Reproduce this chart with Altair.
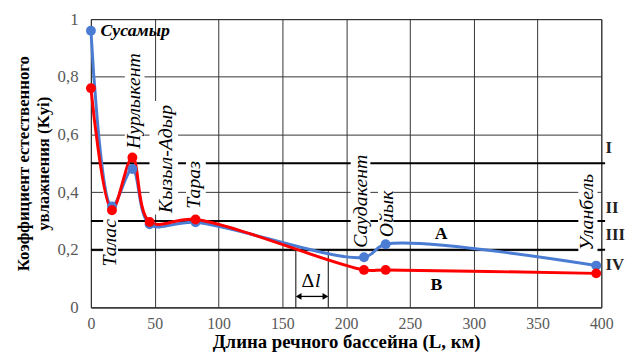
import altair as alt
import pandas as pd

# ---- data ----
stations = ["Сусамыр", "Талас", "Нурлыкент", "Кызыл-Адыр", "Тараз", "Саудакент", "Ойык", "Уланбель"]
km = [0, 16.5, 32.5, 46, 82, 214, 231, 396]
k_a = [0.96, 0.35, 0.48, 0.288, 0.295, 0.174, 0.219, 0.145]
k_b = [0.76, 0.337, 0.52, 0.296, 0.305, 0.13, 0.13, 0.118]

# station label anchors (rotated labels) in data units
label_names = ["Талас", "Нурлыкент", "Кызыл-Адыр", "Тараз", "Саудакент", "Ойык", "Уланбель"]
label_x = [15.3, 33.5, 59, 81.2, 211.4, 232.3, 389]
label_y = [0.224, 0.716, 0.515, 0.425, 0.368, 0.324, 0.33]

# white label boxes that hide grid lines behind the labels
box_x0 = [9.6, 26.6, 45.9, 74.5, 203.6, 225, 382]
box_x1 = [21.2, 42, 68.3, 90, 219, 237, 397]
box_y0 = [0.14, 0.545, 0.322, 0.325, 0.205, 0.236, 0.18]
box_y1 = [0.425, 0.894, 0.716, 0.545, 0.545, 0.44, 0.459]

zone_levels = [0.5, 0.3, 0.2]
zone_names = ["I", "II", "III", "IV"]
zone_y = [0.551, 0.346, 0.25, 0.147]

x_ticks = [0, 50, 100, 150, 200, 250, 300, 350, 400]
y_ticks = [0, 0.2, 0.4, 0.6, 0.8, 1]

dl_x = [160.6, 186]

SERIF = "Liberation Serif"
BLUE = "#4A7CD3"
RED = "#FF0000"

xs = alt.Scale(domain=[0, 400], nice=False)
ys = alt.Scale(domain=[0, 1], nice=False)
x_axis = alt.Axis(values=x_ticks, title="Длина речного бассейна (L, км)", grid=True,
                  gridColor="#333333", gridWidth=1, ticks=False, domainColor="#333333",
                  labelFont=SERIF, labelFontSize=16, labelColor="#595959", labelPadding=8,
                  titleFont=SERIF, titleFontSize=19, titleFontWeight="bold", titleColor="black",
                  titlePadding=2, labelFlush=False)
y_axis = alt.Axis(values=y_ticks, title=["Коэффициент естественного", "увлажнения (Kyi)"],
                  grid=True, gridColor="#333333", gridWidth=1, ticks=False, domainColor="#333333",
                  labelExpr="replace(format(datum.value, '.1~f'), '.', ',')",
                  labelFont=SERIF, labelFontSize=17, labelColor="#595959", labelPadding=13,
                  titleFont=SERIF, titleFontSize=17, titleFontWeight="bold", titleColor="black",
                  titleLineHeight=20, titlePadding=5, labelFlush=False)

series = pd.DataFrame({"km": km + km, "K": k_a + k_b,
                       "s": ["A"] * len(km) + ["B"] * len(km),
                       "o": list(range(len(km))) * 2})

rules = pd.DataFrame({"y": zone_levels, "x0": [0] * 3, "x1": [403] * 3})
boxes = pd.DataFrame({"x0": box_x0, "x1": box_x1, "y0": box_y0, "y1": box_y1})
labels = pd.DataFrame({"name": label_names, "x": label_x, "y": label_y})
zones = pd.DataFrame({"name": zone_names, "x": [403.3] * 4, "y": zone_y})

thick = alt.Chart(rules).mark_rule(color="black", strokeWidth=2).encode(
    x=alt.X("x0:Q", scale=xs, axis=x_axis), x2="x1:Q",
    y=alt.Y("y:Q", scale=ys, axis=y_axis))

box = alt.Chart(boxes).mark_rect(fill="white").encode(
    x=alt.X("x0:Q", scale=xs, axis=x_axis), x2="x1:Q",
    y=alt.Y("y0:Q", scale=ys, axis=y_axis), y2="y1:Q")

dl_df = pd.DataFrame({"x": dl_x, "y0": [0, 0], "y1": [0.2, 0.2]})
dl_lines = alt.Chart(dl_df).mark_rule(color="black", strokeWidth=1).encode(
    x=alt.X("x:Q", scale=xs, axis=x_axis), y=alt.Y("y0:Q", scale=ys, axis=y_axis), y2="y1:Q")
arrow_df = pd.DataFrame({"x0": [dl_x[0] + 1.5], "x1": [dl_x[1] - 1.5], "y": [0.038]})
arrow = alt.Chart(arrow_df).mark_rule(color="black", strokeWidth=1.3).encode(
    x=alt.X("x0:Q", scale=xs, axis=x_axis), x2="x1:Q", y=alt.Y("y:Q", scale=ys, axis=y_axis))
heads_df = pd.DataFrame({"x": [dl_x[0] + 2.2, dl_x[1] - 2.2], "y": [0.038, 0.038],
                         "shape": ["triangle-left", "triangle-right"]})
heads = alt.Chart(heads_df).mark_point(filled=True, color="black", size=45, opacity=1).encode(
    x=alt.X("x:Q", scale=xs, axis=x_axis), y=alt.Y("y:Q", scale=ys, axis=y_axis),
    shape=alt.Shape("shape:N", scale=None, legend=None))
dl_t1 = alt.Chart(pd.DataFrame({"t": ["Δ"], "x": [175], "y": [0.092]})).mark_text(
    font=SERIF, fontSize=20, color="black", align="right", baseline="middle").encode(
    x=alt.X("x:Q", scale=xs, axis=x_axis), y=alt.Y("y:Q", scale=ys, axis=y_axis), text="t:N")
dl_t2 = alt.Chart(pd.DataFrame({"t": ["l"], "x": [175.6], "y": [0.092]})).mark_text(
    font=SERIF, fontSize=20, color="black", fontStyle="italic",
    align="left", baseline="middle").encode(
    x=alt.X("x:Q", scale=xs, axis=x_axis), y=alt.Y("y:Q", scale=ys, axis=y_axis), text="t:N")

color_scale = alt.Scale(domain=["A", "B"], range=[BLUE, RED])
lines = alt.Chart(series).mark_line(interpolate="catmull-rom", strokeWidth=3).encode(
    x=alt.X("km:Q", scale=xs, axis=x_axis), y=alt.Y("K:Q", scale=ys, axis=y_axis),
    color=alt.Color("s:N", scale=color_scale, legend=None), order="o:Q",
    detail="s:N")
pts = alt.Chart(series).mark_circle(size=100, opacity=1).encode(
    x=alt.X("km:Q", scale=xs, axis=x_axis), y=alt.Y("K:Q", scale=ys, axis=y_axis),
    color=alt.Color("s:N", scale=color_scale, legend=None))

sus = alt.Chart(pd.DataFrame({"t": [stations[0]], "x": [7.5], "y": [0.96]})).mark_text(
    font=SERIF, fontSize=18, fontStyle="italic", fontWeight="bold", color="black",
    align="left", baseline="middle").encode(
    x=alt.X("x:Q", scale=xs, axis=x_axis), y=alt.Y("y:Q", scale=ys, axis=y_axis), text="t:N")

rot = alt.Chart(labels).mark_text(font=SERIF, fontSize=20, fontStyle="italic", color="black",
                                  angle=270, align="center", baseline="middle").encode(
    x=alt.X("x:Q", scale=xs, axis=x_axis), y=alt.Y("y:Q", scale=ys, axis=y_axis), text="name:N")

ab = alt.Chart(pd.DataFrame({"t": ["A", "B"], "x": [274.5, 270.7], "y": [0.253, 0.076]})).mark_text(
    font=SERIF, fontSize=18, fontWeight="bold", color="black",
    align="center", baseline="middle").encode(
    x=alt.X("x:Q", scale=xs, axis=x_axis), y=alt.Y("y:Q", scale=ys, axis=y_axis), text="t:N")

zone_text = alt.Chart(zones).mark_text(font=SERIF, fontSize=17, fontWeight="bold", color="#222222",
                                       align="left", baseline="middle").encode(
    x=alt.X("x:Q", scale=xs, axis=x_axis), y=alt.Y("y:Q", scale=ys, axis=y_axis), text="name:N")

chart = alt.layer(thick, box, dl_lines, arrow, heads, dl_t1, dl_t2, lines, pts, sus, rot, ab,
                  zone_text).properties(
    width=517, height=292,
    padding={"left": 84, "top": 9, "right": 24, "bottom": 48},
    autosize=alt.AutoSizeParams(type="none"),
    background="white",
).configure_view(stroke="#333333", strokeWidth=1)

chart.save("out.html", embed_options={"renderer": "svg", "actions": False})
